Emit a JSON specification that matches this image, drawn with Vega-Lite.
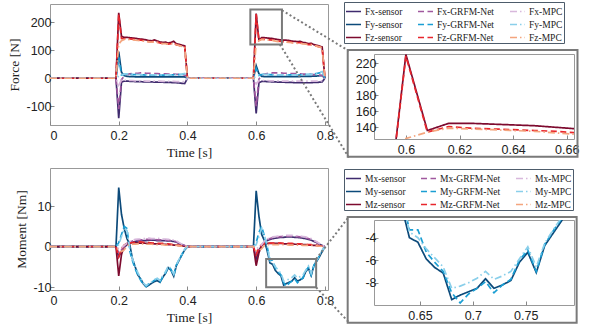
{
"$schema": "https://vega.github.io/schema/vega-lite/v6.json",
"padding": {"left": 7, "top": 1, "right": 5, "bottom": 3},
"background": "white",
"config": {
  "view": {"stroke": "#999999", "strokeWidth": 1},
  "axis": {"grid": false, "domain": false, "tickColor": "#888888", "tickSize": -4, "labelFont": "Liberation Sans", "labelFontSize": 12.5, "labelColor": "#222222", "titleFont": "Liberation Serif", "titleFontSize": 13.5, "titleFontWeight": "normal", "titleColor": "#222222", "labelPadding": 5},
  "axisY": {"titlePadding": 4, "labelPadding": 3},
  "axisX": {"titlePadding": 3, "labelPadding": 8.5},
  "line": {"strokeWidth": 1.7}
},
"datasets": {
"force": [
{"t":0,"Fx-sensor":0,"Fy-sensor":0,"Fz-sensor":0,"Fx-GRFM-Net":0,"Fy-GRFM-Net":0,"Fz-GRFM-Net":0,"Fx-MPC":0,"Fy-MPC":0,"Fz-MPC":0},
{"t":0.192,"Fx-sensor":0,"Fy-sensor":0,"Fz-sensor":0,"Fx-GRFM-Net":0,"Fy-GRFM-Net":0,"Fz-GRFM-Net":0,"Fx-MPC":0,"Fy-MPC":0,"Fz-MPC":0},
{"t":0.2,"Fx-sensor":-143,"Fy-sensor":95,"Fz-sensor":234,"Fx-GRFM-Net":-110,"Fy-GRFM-Net":75,"Fz-GRFM-Net":228,"Fx-MPC":-25,"Fy-MPC":8,"Fz-MPC":122},
{"t":0.208,"Fx-sensor":-14,"Fy-sensor":22,"Fz-sensor":150,"Fx-GRFM-Net":-5,"Fy-GRFM-Net":12,"Fz-GRFM-Net":142,"Fx-MPC":-6,"Fy-MPC":12,"Fz-MPC":134},
{"t":0.216,"Fx-sensor":-10,"Fy-sensor":9,"Fz-sensor":146,"Fx-GRFM-Net":8,"Fy-GRFM-Net":14,"Fz-GRFM-Net":141,"Fx-MPC":-7,"Fy-MPC":15,"Fz-MPC":139},
{"t":0.224,"Fx-sensor":-10,"Fy-sensor":7,"Fz-sensor":146,"Fx-GRFM-Net":14,"Fy-GRFM-Net":15,"Fz-GRFM-Net":142,"Fx-MPC":-8,"Fy-MPC":16,"Fz-MPC":139},
{"t":0.232,"Fx-sensor":-11,"Fy-sensor":6,"Fz-sensor":145,"Fx-GRFM-Net":16,"Fy-GRFM-Net":14,"Fz-GRFM-Net":141,"Fx-MPC":-8,"Fy-MPC":15,"Fz-MPC":138},
{"t":0.24,"Fx-sensor":-11,"Fy-sensor":6,"Fz-sensor":144,"Fx-GRFM-Net":17,"Fy-GRFM-Net":13,"Fz-GRFM-Net":140,"Fx-MPC":-8,"Fy-MPC":14,"Fz-MPC":137},
{"t":0.248,"Fx-sensor":-12,"Fy-sensor":5,"Fz-sensor":143,"Fx-GRFM-Net":18,"Fy-GRFM-Net":13,"Fz-GRFM-Net":139,"Fx-MPC":-9,"Fy-MPC":14,"Fz-MPC":136},
{"t":0.256,"Fx-sensor":-12,"Fy-sensor":5,"Fz-sensor":141,"Fx-GRFM-Net":18,"Fy-GRFM-Net":12,"Fz-GRFM-Net":137,"Fx-MPC":-9,"Fy-MPC":13,"Fz-MPC":135},
{"t":0.264,"Fx-sensor":-12,"Fy-sensor":5,"Fz-sensor":140,"Fx-GRFM-Net":19,"Fy-GRFM-Net":12,"Fz-GRFM-Net":136,"Fx-MPC":-9,"Fy-MPC":13,"Fz-MPC":134},
{"t":0.272,"Fx-sensor":-13,"Fy-sensor":5,"Fz-sensor":139,"Fx-GRFM-Net":19,"Fy-GRFM-Net":12,"Fz-GRFM-Net":135,"Fx-MPC":-9,"Fy-MPC":12,"Fz-MPC":133},
{"t":0.28,"Fx-sensor":-13,"Fy-sensor":5,"Fz-sensor":137,"Fx-GRFM-Net":18,"Fy-GRFM-Net":11,"Fz-GRFM-Net":133,"Fx-MPC":-10,"Fy-MPC":12,"Fz-MPC":131},
{"t":0.288,"Fx-sensor":-13,"Fy-sensor":5,"Fz-sensor":135,"Fx-GRFM-Net":18,"Fy-GRFM-Net":11,"Fz-GRFM-Net":131,"Fx-MPC":-10,"Fy-MPC":12,"Fz-MPC":130},
{"t":0.296,"Fx-sensor":-13,"Fy-sensor":5,"Fz-sensor":134,"Fx-GRFM-Net":17,"Fy-GRFM-Net":11,"Fz-GRFM-Net":130,"Fx-MPC":-10,"Fy-MPC":12,"Fz-MPC":129},
{"t":0.304,"Fx-sensor":-14,"Fy-sensor":5,"Fz-sensor":137,"Fx-GRFM-Net":17,"Fy-GRFM-Net":11,"Fz-GRFM-Net":133,"Fx-MPC":-10,"Fy-MPC":12,"Fz-MPC":130},
{"t":0.312,"Fx-sensor":-14,"Fy-sensor":5,"Fz-sensor":133,"Fx-GRFM-Net":17,"Fy-GRFM-Net":11,"Fz-GRFM-Net":129,"Fx-MPC":-10,"Fy-MPC":12,"Fz-MPC":128},
{"t":0.32,"Fx-sensor":-14,"Fy-sensor":5,"Fz-sensor":130,"Fx-GRFM-Net":16,"Fy-GRFM-Net":11,"Fz-GRFM-Net":126,"Fx-MPC":-10,"Fy-MPC":12,"Fz-MPC":126},
{"t":0.328,"Fx-sensor":-14,"Fy-sensor":5,"Fz-sensor":128,"Fx-GRFM-Net":16,"Fy-GRFM-Net":11,"Fz-GRFM-Net":124,"Fx-MPC":-11,"Fy-MPC":12,"Fz-MPC":124},
{"t":0.336,"Fx-sensor":-15,"Fy-sensor":5,"Fz-sensor":129,"Fx-GRFM-Net":16,"Fy-GRFM-Net":11,"Fz-GRFM-Net":125,"Fx-MPC":-11,"Fy-MPC":12,"Fz-MPC":124},
{"t":0.344,"Fx-sensor":-15,"Fy-sensor":5,"Fz-sensor":126,"Fx-GRFM-Net":15,"Fy-GRFM-Net":11,"Fz-GRFM-Net":122,"Fx-MPC":-11,"Fy-MPC":12,"Fz-MPC":122},
{"t":0.352,"Fx-sensor":-15,"Fy-sensor":5,"Fz-sensor":128,"Fx-GRFM-Net":15,"Fy-GRFM-Net":12,"Fz-GRFM-Net":124,"Fx-MPC":-11,"Fy-MPC":12,"Fz-MPC":123},
{"t":0.36,"Fx-sensor":-16,"Fy-sensor":5,"Fz-sensor":132,"Fx-GRFM-Net":15,"Fy-GRFM-Net":12,"Fz-GRFM-Net":127,"Fx-MPC":-11,"Fy-MPC":13,"Fz-MPC":125},
{"t":0.368,"Fx-sensor":-16,"Fy-sensor":5,"Fz-sensor":123,"Fx-GRFM-Net":14,"Fy-GRFM-Net":12,"Fz-GRFM-Net":119,"Fx-MPC":-12,"Fy-MPC":13,"Fz-MPC":120},
{"t":0.376,"Fx-sensor":-17,"Fy-sensor":5,"Fz-sensor":121,"Fx-GRFM-Net":14,"Fy-GRFM-Net":13,"Fz-GRFM-Net":117,"Fx-MPC":-12,"Fy-MPC":14,"Fz-MPC":117},
{"t":0.384,"Fx-sensor":-18,"Fy-sensor":5,"Fz-sensor":118,"Fx-GRFM-Net":13,"Fy-GRFM-Net":14,"Fz-GRFM-Net":114,"Fx-MPC":-12,"Fy-MPC":15,"Fz-MPC":114},
{"t":0.392,"Fx-sensor":-19,"Fy-sensor":5,"Fz-sensor":116,"Fx-GRFM-Net":12,"Fy-GRFM-Net":16,"Fz-GRFM-Net":112,"Fx-MPC":-12,"Fy-MPC":17,"Fz-MPC":112},
{"t":0.4,"Fx-sensor":0,"Fy-sensor":0,"Fz-sensor":0,"Fx-GRFM-Net":0,"Fy-GRFM-Net":0,"Fz-GRFM-Net":0,"Fx-MPC":0,"Fy-MPC":0,"Fz-MPC":0},
{"t":0.408,"Fx-sensor":0,"Fy-sensor":0,"Fz-sensor":0,"Fx-GRFM-Net":0,"Fy-GRFM-Net":0,"Fz-GRFM-Net":0,"Fx-MPC":0,"Fy-MPC":0,"Fz-MPC":0},
{"t":0.592,"Fx-sensor":0,"Fy-sensor":0,"Fz-sensor":0,"Fx-GRFM-Net":0,"Fy-GRFM-Net":0,"Fz-GRFM-Net":0,"Fx-MPC":0,"Fy-MPC":0,"Fz-MPC":0},
{"t":0.6,"Fx-sensor":-126,"Fy-sensor":45,"Fz-sensor":231,"Fx-GRFM-Net":-100,"Fy-GRFM-Net":35,"Fz-GRFM-Net":229,"Fx-MPC":-20,"Fy-MPC":8,"Fz-MPC":126},
{"t":0.608,"Fx-sensor":-16,"Fy-sensor":16,"Fz-sensor":136,"Fx-GRFM-Net":-3,"Fy-GRFM-Net":10,"Fz-GRFM-Net":134,"Fx-MPC":-8,"Fy-MPC":12,"Fz-MPC":134},
{"t":0.616,"Fx-sensor":-11,"Fy-sensor":7,"Fz-sensor":145,"Fx-GRFM-Net":10,"Fy-GRFM-Net":13,"Fz-GRFM-Net":141,"Fx-MPC":-8,"Fy-MPC":14,"Fz-MPC":139},
{"t":0.624,"Fx-sensor":-11,"Fy-sensor":6,"Fz-sensor":145,"Fx-GRFM-Net":15,"Fy-GRFM-Net":14,"Fz-GRFM-Net":139,"Fx-MPC":-8,"Fy-MPC":14,"Fz-MPC":138},
{"t":0.632,"Fx-sensor":-12,"Fy-sensor":6,"Fz-sensor":144,"Fx-GRFM-Net":17,"Fy-GRFM-Net":13,"Fz-GRFM-Net":138,"Fx-MPC":-8,"Fy-MPC":14,"Fz-MPC":137},
{"t":0.64,"Fx-sensor":-12,"Fy-sensor":6,"Fz-sensor":143,"Fx-GRFM-Net":18,"Fy-GRFM-Net":13,"Fz-GRFM-Net":137,"Fx-MPC":-9,"Fy-MPC":13,"Fz-MPC":136},
{"t":0.648,"Fx-sensor":-13,"Fy-sensor":6,"Fz-sensor":142,"Fx-GRFM-Net":19,"Fy-GRFM-Net":12,"Fz-GRFM-Net":136,"Fx-MPC":-9,"Fy-MPC":13,"Fz-MPC":135},
{"t":0.656,"Fx-sensor":-13,"Fy-sensor":6,"Fz-sensor":140,"Fx-GRFM-Net":19,"Fy-GRFM-Net":12,"Fz-GRFM-Net":135,"Fx-MPC":-9,"Fy-MPC":13,"Fz-MPC":133},
{"t":0.664,"Fx-sensor":-14,"Fy-sensor":6,"Fz-sensor":138,"Fx-GRFM-Net":19,"Fy-GRFM-Net":12,"Fz-GRFM-Net":133,"Fx-MPC":-9,"Fy-MPC":12,"Fz-MPC":131},
{"t":0.672,"Fx-sensor":-14,"Fy-sensor":6,"Fz-sensor":137,"Fx-GRFM-Net":19,"Fy-GRFM-Net":12,"Fz-GRFM-Net":132,"Fx-MPC":-10,"Fy-MPC":12,"Fz-MPC":130},
{"t":0.68,"Fx-sensor":-14,"Fy-sensor":6,"Fz-sensor":136,"Fx-GRFM-Net":18,"Fy-GRFM-Net":12,"Fz-GRFM-Net":131,"Fx-MPC":-10,"Fy-MPC":12,"Fz-MPC":129},
{"t":0.688,"Fx-sensor":-15,"Fy-sensor":6,"Fz-sensor":136,"Fx-GRFM-Net":18,"Fy-GRFM-Net":12,"Fz-GRFM-Net":131,"Fx-MPC":-10,"Fy-MPC":12,"Fz-MPC":129},
{"t":0.696,"Fx-sensor":-15,"Fy-sensor":6,"Fz-sensor":135,"Fx-GRFM-Net":17,"Fy-GRFM-Net":12,"Fz-GRFM-Net":130,"Fx-MPC":-10,"Fy-MPC":12,"Fz-MPC":128},
{"t":0.704,"Fx-sensor":-15,"Fy-sensor":6,"Fz-sensor":133,"Fx-GRFM-Net":17,"Fy-GRFM-Net":12,"Fz-GRFM-Net":128,"Fx-MPC":-10,"Fy-MPC":12,"Fz-MPC":127},
{"t":0.712,"Fx-sensor":-16,"Fy-sensor":6,"Fz-sensor":132,"Fx-GRFM-Net":17,"Fy-GRFM-Net":12,"Fz-GRFM-Net":127,"Fx-MPC":-10,"Fy-MPC":12,"Fz-MPC":126},
{"t":0.72,"Fx-sensor":-16,"Fy-sensor":6,"Fz-sensor":131,"Fx-GRFM-Net":16,"Fy-GRFM-Net":12,"Fz-GRFM-Net":127,"Fx-MPC":-10,"Fy-MPC":12,"Fz-MPC":125},
{"t":0.728,"Fx-sensor":-16,"Fy-sensor":6,"Fz-sensor":132,"Fx-GRFM-Net":16,"Fy-GRFM-Net":12,"Fz-GRFM-Net":127,"Fx-MPC":-10,"Fy-MPC":13,"Fz-MPC":125},
{"t":0.736,"Fx-sensor":-16,"Fy-sensor":7,"Fz-sensor":128,"Fx-GRFM-Net":15,"Fy-GRFM-Net":13,"Fz-GRFM-Net":124,"Fx-MPC":-10,"Fy-MPC":13,"Fz-MPC":123},
{"t":0.744,"Fx-sensor":-16,"Fy-sensor":7,"Fz-sensor":127,"Fx-GRFM-Net":15,"Fy-GRFM-Net":13,"Fz-GRFM-Net":123,"Fx-MPC":-10,"Fy-MPC":13,"Fz-MPC":122},
{"t":0.752,"Fx-sensor":-16,"Fy-sensor":7,"Fz-sensor":124,"Fx-GRFM-Net":14,"Fy-GRFM-Net":13,"Fz-GRFM-Net":120,"Fx-MPC":-10,"Fy-MPC":14,"Fz-MPC":120},
{"t":0.76,"Fx-sensor":-16,"Fy-sensor":7,"Fz-sensor":125,"Fx-GRFM-Net":14,"Fy-GRFM-Net":14,"Fz-GRFM-Net":121,"Fx-MPC":-10,"Fy-MPC":14,"Fz-MPC":120},
{"t":0.768,"Fx-sensor":-15,"Fy-sensor":8,"Fz-sensor":120,"Fx-GRFM-Net":13,"Fy-GRFM-Net":15,"Fz-GRFM-Net":117,"Fx-MPC":-10,"Fy-MPC":15,"Fz-MPC":117},
{"t":0.776,"Fx-sensor":-15,"Fy-sensor":8,"Fz-sensor":118,"Fx-GRFM-Net":12,"Fy-GRFM-Net":17,"Fz-GRFM-Net":115,"Fx-MPC":-10,"Fy-MPC":17,"Fz-MPC":115},
{"t":0.784,"Fx-sensor":-14,"Fy-sensor":9,"Fz-sensor":115,"Fx-GRFM-Net":11,"Fy-GRFM-Net":19,"Fz-GRFM-Net":112,"Fx-MPC":-10,"Fy-MPC":20,"Fz-MPC":112},
{"t":0.792,"Fx-sensor":-13,"Fy-sensor":10,"Fz-sensor":112,"Fx-GRFM-Net":10,"Fy-GRFM-Net":22,"Fz-GRFM-Net":109,"Fx-MPC":-9,"Fy-MPC":24,"Fz-MPC":109},
{"t":0.8,"Fx-sensor":0,"Fy-sensor":0,"Fz-sensor":0,"Fx-GRFM-Net":0,"Fy-GRFM-Net":0,"Fz-GRFM-Net":0,"Fx-MPC":0,"Fy-MPC":0,"Fz-MPC":0}
],
"moment": [
{"t":0,"Mx-sensor":0,"My-sensor":0,"Mz-sensor":0,"Mx-GRFM-Net":0,"My-GRFM-Net":0,"Mz-GRFM-Net":0,"Mx-MPC":0,"My-MPC":0,"Mz-MPC":0},
{"t":0.192,"Mx-sensor":0,"My-sensor":0,"Mz-sensor":0,"Mx-GRFM-Net":0,"My-GRFM-Net":0,"Mz-GRFM-Net":0,"Mx-MPC":0,"My-MPC":0,"Mz-MPC":0},
{"t":0.2,"Mx-sensor":-2.5,"My-sensor":14.6,"Mz-sensor":-7.2,"Mx-GRFM-Net":-1.5,"My-GRFM-Net":1.0,"Mz-GRFM-Net":-2.5,"Mx-MPC":-0.5,"My-MPC":0.5,"Mz-MPC":-1.0},
{"t":0.208,"Mx-sensor":-1.2,"My-sensor":8.0,"Mz-sensor":-2.0,"Mx-GRFM-Net":-0.8,"My-GRFM-Net":3.0,"Mz-GRFM-Net":-0.5,"Mx-MPC":-0.3,"My-MPC":2.5,"Mz-MPC":-1.2},
{"t":0.216,"Mx-sensor":-0.2,"My-sensor":4.5,"Mz-sensor":0.3,"Mx-GRFM-Net":0.0,"My-GRFM-Net":5.0,"Mz-GRFM-Net":0.4,"Mx-MPC":0.3,"My-MPC":4.5,"Mz-MPC":-0.8},
{"t":0.224,"Mx-sensor":0.5,"My-sensor":2.0,"Mz-sensor":0.8,"Mx-GRFM-Net":0.6,"My-GRFM-Net":4.5,"Mz-GRFM-Net":0.8,"Mx-MPC":0.8,"My-MPC":4.0,"Mz-MPC":0.2},
{"t":0.232,"Mx-sensor":0.9,"My-sensor":0.5,"Mz-sensor":1.0,"Mx-GRFM-Net":1.1,"My-GRFM-Net":-1.0,"Mz-GRFM-Net":0.9,"Mx-MPC":1.3,"My-MPC":-0.5,"Mz-MPC":0.5},
{"t":0.24,"Mx-sensor":1.1,"My-sensor":-3.0,"Mz-sensor":1.0,"Mx-GRFM-Net":1.4,"My-GRFM-Net":-3.5,"Mz-GRFM-Net":1.0,"Mx-MPC":1.6,"My-MPC":-3.0,"Mz-MPC":0.6},
{"t":0.248,"Mx-sensor":1.3,"My-sensor":-5.0,"Mz-sensor":1.0,"Mx-GRFM-Net":1.5,"My-GRFM-Net":-5.5,"Mz-GRFM-Net":1.1,"Mx-MPC":1.8,"My-MPC":-4.8,"Mz-MPC":0.6},
{"t":0.256,"Mx-sensor":1.4,"My-sensor":-7.0,"Mz-sensor":0.9,"Mx-GRFM-Net":1.6,"My-GRFM-Net":-7.0,"Mz-GRFM-Net":1.2,"Mx-MPC":1.9,"My-MPC":-6.5,"Mz-MPC":0.7},
{"t":0.264,"Mx-sensor":1.5,"My-sensor":-8.0,"Mz-sensor":0.9,"Mx-GRFM-Net":1.7,"My-GRFM-Net":-8.3,"Mz-GRFM-Net":1.2,"Mx-MPC":1.9,"My-MPC":-7.8,"Mz-MPC":0.7},
{"t":0.272,"Mx-sensor":1.5,"My-sensor":-9.2,"Mz-sensor":0.9,"Mx-GRFM-Net":1.7,"My-GRFM-Net":-9.4,"Mz-GRFM-Net":1.1,"Mx-MPC":2.0,"My-MPC":-9.0,"Mz-MPC":0.7},
{"t":0.28,"Mx-sensor":1.5,"My-sensor":-9.9,"Mz-sensor":0.8,"Mx-GRFM-Net":1.8,"My-GRFM-Net":-9.8,"Mz-GRFM-Net":1.0,"Mx-MPC":2.0,"My-MPC":-9.6,"Mz-MPC":0.6},
{"t":0.288,"Mx-sensor":1.6,"My-sensor":-9.5,"Mz-sensor":0.8,"Mx-GRFM-Net":1.8,"My-GRFM-Net":-9.2,"Mz-GRFM-Net":1.0,"Mx-MPC":2.1,"My-MPC":-9.1,"Mz-MPC":0.6},
{"t":0.296,"Mx-sensor":1.6,"My-sensor":-9.0,"Mz-sensor":0.8,"Mx-GRFM-Net":1.8,"My-GRFM-Net":-8.8,"Mz-GRFM-Net":0.9,"Mx-MPC":2.0,"My-MPC":-8.7,"Mz-MPC":0.6},
{"t":0.304,"Mx-sensor":1.6,"My-sensor":-8.6,"Mz-sensor":0.7,"Mx-GRFM-Net":1.8,"My-GRFM-Net":-8.3,"Mz-GRFM-Net":0.9,"Mx-MPC":2.0,"My-MPC":-8.1,"Mz-MPC":0.5},
{"t":0.312,"Mx-sensor":1.5,"My-sensor":-8.4,"Mz-sensor":0.7,"Mx-GRFM-Net":1.7,"My-GRFM-Net":-8.0,"Mz-GRFM-Net":0.8,"Mx-MPC":2.1,"My-MPC":-7.8,"Mz-MPC":0.5},
{"t":0.32,"Mx-sensor":1.5,"My-sensor":-8.8,"Mz-sensor":0.7,"Mx-GRFM-Net":1.7,"My-GRFM-Net":-8.7,"Mz-GRFM-Net":0.8,"Mx-MPC":2.0,"My-MPC":-8.3,"Mz-MPC":0.5},
{"t":0.328,"Mx-sensor":1.5,"My-sensor":-7.6,"Mz-sensor":0.6,"Mx-GRFM-Net":1.7,"My-GRFM-Net":-7.5,"Mz-GRFM-Net":0.8,"Mx-MPC":1.9,"My-MPC":-7.2,"Mz-MPC":0.5},
{"t":0.336,"Mx-sensor":1.5,"My-sensor":-6.6,"Mz-sensor":0.6,"Mx-GRFM-Net":1.6,"My-GRFM-Net":-6.5,"Mz-GRFM-Net":0.7,"Mx-MPC":1.9,"My-MPC":-6.2,"Mz-MPC":0.4},
{"t":0.344,"Mx-sensor":1.4,"My-sensor":-5.2,"Mz-sensor":0.5,"Mx-GRFM-Net":1.6,"My-GRFM-Net":-5.0,"Mz-GRFM-Net":0.7,"Mx-MPC":1.8,"My-MPC":-4.8,"Mz-MPC":0.4},
{"t":0.352,"Mx-sensor":1.4,"My-sensor":-5.8,"Mz-sensor":0.5,"Mx-GRFM-Net":1.5,"My-GRFM-Net":-5.6,"Mz-GRFM-Net":0.6,"Mx-MPC":1.8,"My-MPC":-5.4,"Mz-MPC":0.4},
{"t":0.36,"Mx-sensor":1.3,"My-sensor":-7.3,"Mz-sensor":0.4,"Mx-GRFM-Net":1.4,"My-GRFM-Net":-7.2,"Mz-GRFM-Net":0.5,"Mx-MPC":1.6,"My-MPC":-6.8,"Mz-MPC":0.3},
{"t":0.368,"Mx-sensor":1.1,"My-sensor":-4.6,"Mz-sensor":0.4,"Mx-GRFM-Net":1.2,"My-GRFM-Net":-4.5,"Mz-GRFM-Net":0.4,"Mx-MPC":1.4,"My-MPC":-4.4,"Mz-MPC":0.3},
{"t":0.376,"Mx-sensor":0.8,"My-sensor":-3.3,"Mz-sensor":0.3,"Mx-GRFM-Net":0.9,"My-GRFM-Net":-3.2,"Mz-GRFM-Net":0.3,"Mx-MPC":1.0,"My-MPC":-3.1,"Mz-MPC":0.2},
{"t":0.384,"Mx-sensor":0.5,"My-sensor":-2.0,"Mz-sensor":0.2,"Mx-GRFM-Net":0.6,"My-GRFM-Net":-1.9,"Mz-GRFM-Net":0.2,"Mx-MPC":0.6,"My-MPC":-1.8,"Mz-MPC":0.1},
{"t":0.392,"Mx-sensor":0.2,"My-sensor":-0.8,"Mz-sensor":0.1,"Mx-GRFM-Net":0.3,"My-GRFM-Net":-0.6,"Mz-GRFM-Net":0.1,"Mx-MPC":0.3,"My-MPC":-0.6,"Mz-MPC":0.1},
{"t":0.4,"Mx-sensor":0,"My-sensor":0,"Mz-sensor":0,"Mx-GRFM-Net":0,"My-GRFM-Net":0,"Mz-GRFM-Net":0,"Mx-MPC":0,"My-MPC":0,"Mz-MPC":0},
{"t":0.408,"Mx-sensor":0,"My-sensor":0,"Mz-sensor":0,"Mx-GRFM-Net":0,"My-GRFM-Net":0,"Mz-GRFM-Net":0,"Mx-MPC":0,"My-MPC":0,"Mz-MPC":0},
{"t":0.592,"Mx-sensor":0,"My-sensor":0,"Mz-sensor":0,"Mx-GRFM-Net":0,"My-GRFM-Net":0,"Mz-GRFM-Net":0,"Mx-MPC":0,"My-MPC":0,"Mz-MPC":0},
{"t":0.6,"Mx-sensor":-3.0,"My-sensor":13.8,"Mz-sensor":-4.7,"Mx-GRFM-Net":-1.5,"My-GRFM-Net":1.0,"Mz-GRFM-Net":-2.0,"Mx-MPC":-0.5,"My-MPC":0.5,"Mz-MPC":-1.0},
{"t":0.608,"Mx-sensor":-1.0,"My-sensor":7.5,"Mz-sensor":-1.5,"Mx-GRFM-Net":-0.5,"My-GRFM-Net":3.5,"Mz-GRFM-Net":-0.3,"Mx-MPC":-0.2,"My-MPC":2.5,"Mz-MPC":-1.0},
{"t":0.616,"Mx-sensor":0.3,"My-sensor":3.0,"Mz-sensor":0.3,"Mx-GRFM-Net":0.4,"My-GRFM-Net":5.0,"Mz-GRFM-Net":0.5,"Mx-MPC":0.5,"My-MPC":4.5,"Mz-MPC":-0.5},
{"t":0.624,"Mx-sensor":1.0,"My-sensor":1.5,"Mz-sensor":0.7,"Mx-GRFM-Net":1.2,"My-GRFM-Net":2.5,"Mz-GRFM-Net":0.8,"Mx-MPC":1.4,"My-MPC":2.8,"Mz-MPC":0.3},
{"t":0.632,"Mx-sensor":1.5,"My-sensor":-1.0,"Mz-sensor":0.8,"Mx-GRFM-Net":1.7,"My-GRFM-Net":0.0,"Mz-GRFM-Net":0.9,"Mx-MPC":1.9,"My-MPC":0.3,"Mz-MPC":0.5},
{"t":0.64,"Mx-sensor":1.8,"My-sensor":-4.0,"Mz-sensor":0.8,"Mx-GRFM-Net":2.0,"My-GRFM-Net":-3.3,"Mz-GRFM-Net":0.9,"Mx-MPC":2.2,"My-MPC":-3.5,"Mz-MPC":0.5},
{"t":0.648,"Mx-sensor":2.0,"My-sensor":-4.4,"Mz-sensor":0.8,"Mx-GRFM-Net":2.2,"My-GRFM-Net":-3.3,"Mz-GRFM-Net":0.9,"Mx-MPC":2.4,"My-MPC":-4.0,"Mz-MPC":0.5},
{"t":0.656,"Mx-sensor":2.1,"My-sensor":-5.9,"Mz-sensor":0.8,"Mx-GRFM-Net":2.3,"My-GRFM-Net":-5.3,"Mz-GRFM-Net":0.9,"Mx-MPC":2.5,"My-MPC":-5.0,"Mz-MPC":0.5},
{"t":0.664,"Mx-sensor":2.2,"My-sensor":-6.65,"Mz-sensor":0.8,"Mx-GRFM-Net":2.4,"My-GRFM-Net":-6.2,"Mz-GRFM-Net":0.9,"Mx-MPC":2.6,"My-MPC":-5.8,"Mz-MPC":0.5},
{"t":0.672,"Mx-sensor":2.3,"My-sensor":-7.15,"Mz-sensor":0.8,"Mx-GRFM-Net":2.5,"My-GRFM-Net":-7.0,"Mz-GRFM-Net":0.9,"Mx-MPC":2.7,"My-MPC":-6.6,"Mz-MPC":0.5},
{"t":0.68,"Mx-sensor":2.3,"My-sensor":-9.5,"Mz-sensor":0.7,"Mx-GRFM-Net":2.5,"My-GRFM-Net":-8.9,"Mz-GRFM-Net":0.8,"Mx-MPC":2.7,"My-MPC":-8.5,"Mz-MPC":0.5},
{"t":0.688,"Mx-sensor":2.4,"My-sensor":-9.1,"Mz-sensor":0.7,"Mx-GRFM-Net":2.6,"My-GRFM-Net":-9.8,"Mz-GRFM-Net":0.8,"Mx-MPC":2.8,"My-MPC":-8.3,"Mz-MPC":0.5},
{"t":0.696,"Mx-sensor":2.4,"My-sensor":-8.8,"Mz-sensor":0.7,"Mx-GRFM-Net":2.6,"My-GRFM-Net":-9.0,"Mz-GRFM-Net":0.8,"Mx-MPC":2.8,"My-MPC":-8.0,"Mz-MPC":0.4},
{"t":0.704,"Mx-sensor":2.4,"My-sensor":-8.5,"Mz-sensor":0.7,"Mx-GRFM-Net":2.6,"My-GRFM-Net":-8.5,"Mz-GRFM-Net":0.8,"Mx-MPC":2.8,"My-MPC":-7.6,"Mz-MPC":0.4},
{"t":0.712,"Mx-sensor":2.3,"My-sensor":-7.65,"Mz-sensor":0.6,"Mx-GRFM-Net":2.5,"My-GRFM-Net":-7.9,"Mz-GRFM-Net":0.7,"Mx-MPC":2.7,"My-MPC":-7.0,"Mz-MPC":0.4},
{"t":0.72,"Mx-sensor":2.3,"My-sensor":-8.5,"Mz-sensor":0.6,"Mx-GRFM-Net":2.5,"My-GRFM-Net":-8.9,"Mz-GRFM-Net":0.7,"Mx-MPC":2.7,"My-MPC":-7.7,"Mz-MPC":0.4},
{"t":0.728,"Mx-sensor":2.2,"My-sensor":-8.2,"Mz-sensor":0.6,"Mx-GRFM-Net":2.4,"My-GRFM-Net":-8.2,"Mz-GRFM-Net":0.7,"Mx-MPC":2.6,"My-MPC":-7.4,"Mz-MPC":0.4},
{"t":0.736,"Mx-sensor":2.1,"My-sensor":-7.8,"Mz-sensor":0.5,"Mx-GRFM-Net":2.3,"My-GRFM-Net":-7.7,"Mz-GRFM-Net":0.6,"Mx-MPC":2.5,"My-MPC":-7.0,"Mz-MPC":0.3},
{"t":0.744,"Mx-sensor":2.0,"My-sensor":-6.2,"Mz-sensor":0.5,"Mx-GRFM-Net":2.2,"My-GRFM-Net":-6.0,"Mz-GRFM-Net":0.6,"Mx-MPC":2.4,"My-MPC":-5.9,"Mz-MPC":0.3},
{"t":0.752,"Mx-sensor":1.8,"My-sensor":-5.3,"Mz-sensor":0.4,"Mx-GRFM-Net":2.0,"My-GRFM-Net":-5.1,"Mz-GRFM-Net":0.5,"Mx-MPC":2.2,"My-MPC":-4.8,"Mz-MPC":0.3},
{"t":0.76,"Mx-sensor":1.6,"My-sensor":-7.1,"Mz-sensor":0.4,"Mx-GRFM-Net":1.8,"My-GRFM-Net":-7.0,"Mz-GRFM-Net":0.5,"Mx-MPC":2.0,"My-MPC":-6.6,"Mz-MPC":0.3},
{"t":0.768,"Mx-sensor":1.3,"My-sensor":-4.7,"Mz-sensor":0.3,"Mx-GRFM-Net":1.5,"My-GRFM-Net":-4.6,"Mz-GRFM-Net":0.4,"Mx-MPC":1.6,"My-MPC":-4.5,"Mz-MPC":0.2},
{"t":0.776,"Mx-sensor":1.0,"My-sensor":-3.6,"Mz-sensor":0.3,"Mx-GRFM-Net":1.1,"My-GRFM-Net":-3.4,"Mz-GRFM-Net":0.3,"Mx-MPC":1.2,"My-MPC":-3.3,"Mz-MPC":0.2},
{"t":0.784,"Mx-sensor":0.6,"My-sensor":-2.5,"Mz-sensor":0.2,"Mx-GRFM-Net":0.7,"My-GRFM-Net":-2.3,"Mz-GRFM-Net":0.2,"Mx-MPC":0.8,"My-MPC":-2.2,"Mz-MPC":0.1},
{"t":0.792,"Mx-sensor":0.3,"My-sensor":-1.2,"Mz-sensor":0.1,"Mx-GRFM-Net":0.3,"My-GRFM-Net":-1.0,"Mz-GRFM-Net":0.1,"Mx-MPC":0.4,"My-MPC":-1.0,"Mz-MPC":0.1},
{"t":0.8,"Mx-sensor":0,"My-sensor":0,"Mz-sensor":0,"Mx-GRFM-Net":0,"My-GRFM-Net":0,"Mz-GRFM-Net":0,"Mx-MPC":0,"My-MPC":0,"Mz-MPC":0}
]
},
"spacing": -8,
"resolve": {"scale": {"x": "independent", "y": "independent", "color": "independent", "strokeDash": "independent"}, "legend": {"color": "independent", "strokeDash": "independent"}, "axis": {"x": "independent", "y": "independent"}},
"hconcat": [
 {
  "bounds": "flush",
  "spacing": 43,
  "resolve": {"scale": {"x": "independent", "y": "independent", "color": "independent", "strokeDash": "independent"}, "legend": {"color": "independent", "strokeDash": "independent"}, "axis": {"x": "independent", "y": "independent"}},
  "vconcat": [
   {
    "width": 278, "height": 121,
    "layer": [
     {
      "data": {"name": "force"},
      "transform": [{"fold": ["Fx-sensor","Fy-sensor","Fz-sensor","Fx-GRFM-Net","Fy-GRFM-Net","Fz-GRFM-Net","Fx-MPC","Fy-MPC","Fz-MPC"], "as": ["series", "v"]}],
      "mark": {"type": "line", "clip": true},
      "encoding": {
       "x": {"field": "t", "type": "quantitative", "scale": {"domain": [0, 0.809], "nice": false, "zero": false}, "axis": {"values": [0, 0.2, 0.4, 0.6, 0.8], "labelExpr": "'' + datum.value", "title": "Time [s]"}},
       "y": {"field": "v", "type": "quantitative", "scale": {"domain": [-167, 265.4], "nice": false, "zero": false}, "axis": {"values": [-100, 0, 100, 200], "labelExpr": "'' + datum.value", "title": "Force [N]"}},
       "color": {"field": "series", "type": "nominal", "scale": {"domain": ["Fx-sensor","Fy-sensor","Fz-sensor","Fx-GRFM-Net","Fy-GRFM-Net","Fz-GRFM-Net","Fx-MPC","Fy-MPC","Fz-MPC"], "range": ["#3f2b6e","#0c4a7a","#7d0a2e","#a0589e","#1a9ed3","#e8262c","#d8b8dc","#8acfea","#f4a57e"]}, "legend": null},
       "strokeDash": {"field": "series", "type": "nominal", "scale": {"domain": ["Fx-sensor","Fy-sensor","Fz-sensor","Fx-GRFM-Net","Fy-GRFM-Net","Fz-GRFM-Net","Fx-MPC","Fy-MPC","Fz-MPC"], "range": [[1,0],[1,0],[1,0],[6,3.5],[6,3.5],[6,3.5],[7,3,1.5,3],[7,3,1.5,3],[7,3,1.5,3]]}, "legend": null}
      }
     },
     {
      "data": {"values": [{"x": 0.583, "x2": 0.675, "y": 121, "y2": 246}]},
      "mark": {"type": "rect", "fillOpacity": 0, "stroke": "#7a7a7a", "strokeWidth": 2},
      "encoding": {
       "x": {"field": "x", "type": "quantitative", "scale": {"domain": [0, 0.809], "nice": false, "zero": false}, "axis": {"values": [0, 0.2, 0.4, 0.6, 0.8], "labelExpr": "'' + datum.value", "title": "Time [s]"}},
       "x2": {"field": "x2"},
       "y": {"field": "y", "type": "quantitative", "scale": {"domain": [-167, 265.4], "nice": false, "zero": false}, "axis": {"values": [-100, 0, 100, 200], "labelExpr": "'' + datum.value", "title": "Force [N]"}},
       "y2": {"field": "y2"}
      }
     },
     {
      "data": {"values": [{"x": 0.675, "y": 243, "x2": 0.87, "y2": 97.5}, {"x": 0.669, "y": 121, "x2": 0.87, "y2": -283.6}]},
      "mark": {"type": "rule", "color": "#7a7a7a", "strokeWidth": 2, "strokeDash": [2, 2.5]},
      "encoding": {
       "x": {"field": "x", "type": "quantitative", "scale": {"domain": [0, 0.809], "nice": false, "zero": false}, "axis": {"values": [0, 0.2, 0.4, 0.6, 0.8], "labelExpr": "'' + datum.value", "title": "Time [s]"}},
       "x2": {"field": "x2"},
       "y": {"field": "y", "type": "quantitative", "scale": {"domain": [-167, 265.4], "nice": false, "zero": false}, "axis": {"values": [-100, 0, 100, 200], "labelExpr": "'' + datum.value", "title": "Force [N]"}},
       "y2": {"field": "y2"}
      }
     }
    ]
   },
   {
    "width": 278, "height": 122,
    "layer": [
     {
      "data": {"name": "moment"},
      "transform": [{"fold": ["Mx-sensor","My-sensor","Mz-sensor","Mx-GRFM-Net","My-GRFM-Net","Mz-GRFM-Net","Mx-MPC","My-MPC","Mz-MPC"], "as": ["series", "v"]}],
      "mark": {"type": "line", "clip": true},
      "encoding": {
       "x": {"field": "t", "type": "quantitative", "scale": {"domain": [0, 0.809], "nice": false, "zero": false}, "axis": {"values": [0, 0.2, 0.4, 0.6, 0.8], "labelExpr": "'' + datum.value", "title": "Time [s]"}},
       "y": {"field": "v", "type": "quantitative", "scale": {"domain": [-10.7, 19.43], "nice": false, "zero": false}, "axis": {"values": [-10, 0, 10], "labelExpr": "'' + datum.value", "title": "Moment [Nm]"}},
       "color": {"field": "series", "type": "nominal", "scale": {"domain": ["Mx-sensor","My-sensor","Mz-sensor","Mx-GRFM-Net","My-GRFM-Net","Mz-GRFM-Net","Mx-MPC","My-MPC","Mz-MPC"], "range": ["#3f2b6e","#0c4a7a","#7d0a2e","#a0589e","#1a9ed3","#e8262c","#d8b8dc","#8acfea","#f4a57e"]}, "legend": null},
       "strokeDash": {"field": "series", "type": "nominal", "scale": {"domain": ["Mx-sensor","My-sensor","Mz-sensor","Mx-GRFM-Net","My-GRFM-Net","Mz-GRFM-Net","Mx-MPC","My-MPC","Mz-MPC"], "range": [[1,0],[1,0],[1,0],[6,3.5],[6,3.5],[6,3.5],[7,3,1.5,3],[7,3,1.5,3],[7,3,1.5,3]]}, "legend": null}
      }
     },
     {
      "data": {"values": [{"x": 0.629, "x2": 0.7745, "y": -10.05, "y2": -3.04}]},
      "mark": {"type": "rect", "fillOpacity": 0, "stroke": "#7a7a7a", "strokeWidth": 2},
      "encoding": {
       "x": {"field": "x", "type": "quantitative", "scale": {"domain": [0, 0.809], "nice": false, "zero": false}, "axis": {"values": [0, 0.2, 0.4, 0.6, 0.8], "labelExpr": "'' + datum.value", "title": "Time [s]"}},
       "x2": {"field": "x2"},
       "y": {"field": "y", "type": "quantitative", "scale": {"domain": [-10.7, 19.43], "nice": false, "zero": false}, "axis": {"values": [-10, 0, 10], "labelExpr": "'' + datum.value", "title": "Moment [Nm]"}},
       "y2": {"field": "y2"}
      }
     },
     {
      "data": {"values": [{"x": 0.7745, "y": -3.04, "x2": 0.87, "y2": 7.4}, {"x": 0.7745, "y": -10.05, "x2": 0.87, "y2": -18.7}]},
      "mark": {"type": "rule", "color": "#7a7a7a", "strokeWidth": 2, "strokeDash": [2, 2.5]},
      "encoding": {
       "x": {"field": "x", "type": "quantitative", "scale": {"domain": [0, 0.809], "nice": false, "zero": false}, "axis": {"values": [0, 0.2, 0.4, 0.6, 0.8], "labelExpr": "'' + datum.value", "title": "Time [s]"}},
       "x2": {"field": "x2"},
       "y": {"field": "y", "type": "quantitative", "scale": {"domain": [-10.7, 19.43], "nice": false, "zero": false}, "axis": {"values": [-10, 0, 10], "labelExpr": "'' + datum.value", "title": "Moment [Nm]"}},
       "y2": {"field": "y2"}
      }
     }
    ]
   }
  ]
 },
 {
  "bounds": "flush",
  "spacing": 8,
  "resolve": {"scale": {"x": "independent", "y": "independent", "color": "independent", "strokeDash": "independent"}, "legend": {"color": "independent", "strokeDash": "independent"}, "axis": {"x": "independent", "y": "independent"}},
  "vconcat": [
   {"width": 200, "height": 42, "data": {"values": [{"a": 1}]}, "mark": {"type": "point", "opacity": 0}, "view": {"stroke": null}},
   {
    "width": 200, "height": 85,
    "layer": [
     {
      "data": {"name": "force"},
      "transform": [{"fold": ["Fx-sensor","Fy-sensor","Fz-sensor","Fx-GRFM-Net","Fy-GRFM-Net","Fz-GRFM-Net","Fx-MPC","Fy-MPC","Fz-MPC"], "as": ["series", "v"]}],
      "mark": {"type": "line", "clip": true},
      "encoding": {
       "x": {"field": "t", "type": "quantitative", "scale": {"domain": [0.5881, 0.6627], "nice": false, "zero": false}, "axis": {"values": [0.6, 0.62, 0.64, 0.66], "labelExpr": "'' + datum.value", "title": null}},
       "y": {"field": "v", "type": "quantitative", "scale": {"domain": [125.4, 231.6], "nice": false, "zero": false}, "axis": {"values": [140, 160, 180, 200, 220], "labelExpr": "'' + datum.value", "title": null, "labelPadding": 2}},
       "color": {"field": "series", "type": "nominal", "scale": {"domain": ["Fx-sensor","Fy-sensor","Fz-sensor","Fx-GRFM-Net","Fy-GRFM-Net","Fz-GRFM-Net","Fx-MPC","Fy-MPC","Fz-MPC"], "range": ["#3f2b6e","#0c4a7a","#7d0a2e","#a0589e","#1a9ed3","#e8262c","#d8b8dc","#8acfea","#f4a57e"]},
        "legend": {"orient": "none", "legendX": -30, "legendY": -52, "title": null, "columns": 3, "symbolType": "stroke", "symbolSize": 225, "symbolStrokeWidth": 2, "labelFont": "Liberation Serif", "labelFontSize": 9.5, "labelColor": "#222222", "labelOffset": 3, "strokeColor": "#4d5c6b", "fillColor": "#ffffff", "padding": 1, "rowPadding": -1, "columnPadding": 11}},
       "strokeDash": {"field": "series", "type": "nominal", "scale": {"domain": ["Fx-sensor","Fy-sensor","Fz-sensor","Fx-GRFM-Net","Fy-GRFM-Net","Fz-GRFM-Net","Fx-MPC","Fy-MPC","Fz-MPC"], "range": [[1,0],[1,0],[1,0],[6,3.5],[6,3.5],[6,3.5],[7,3,1.5,3],[7,3,1.5,3],[7,3,1.5,3]]},
        "legend": {"orient": "none", "legendX": -30, "legendY": -52, "title": null, "columns": 3, "symbolType": "stroke", "symbolSize": 225, "symbolStrokeWidth": 2, "labelFont": "Liberation Serif", "labelFontSize": 9.5, "labelColor": "#222222", "labelOffset": 3, "strokeColor": "#4d5c6b", "fillColor": "#ffffff", "padding": 1, "rowPadding": -1, "columnPadding": 11}}
      }
     },
     {
      "data": {"values": [{"x": 0.5783, "x2": 0.664, "y": 103.3, "y2": 236.6}]},
      "mark": {"type": "rect", "fillOpacity": 0, "stroke": "#7a7a7a", "strokeWidth": 2},
      "encoding": {
       "x": {"field": "x", "type": "quantitative", "scale": {"domain": [0.5881, 0.6627], "nice": false, "zero": false}, "axis": {"values": [0.6, 0.62, 0.64, 0.66], "labelExpr": "'' + datum.value", "title": null}},
       "x2": {"field": "x2"},
       "y": {"field": "y", "type": "quantitative", "scale": {"domain": [125.4, 231.6], "nice": false, "zero": false}, "axis": {"values": [140, 160, 180, 200, 220], "labelExpr": "'' + datum.value", "title": null, "labelPadding": 2}},
       "y2": {"field": "y2"}
      }
     }
    ]
   },
   {"width": 200, "height": 65, "data": {"values": [{"a": 1}]}, "mark": {"type": "point", "opacity": 0}, "view": {"stroke": null}},
   {
    "width": 200, "height": 85,
    "layer": [
     {
      "data": {"name": "moment"},
      "transform": [{"fold": ["Mx-sensor","My-sensor","Mz-sensor","Mx-GRFM-Net","My-GRFM-Net","Mz-GRFM-Net","Mx-MPC","My-MPC","Mz-MPC"], "as": ["series", "v"]}],
      "mark": {"type": "line", "clip": true},
      "encoding": {
       "x": {"field": "t", "type": "quantitative", "scale": {"domain": [0.6065, 0.7957], "nice": false, "zero": false}, "axis": {"values": [0.65, 0.7, 0.75], "labelExpr": "'' + datum.value", "title": null}},
       "y": {"field": "v", "type": "quantitative", "scale": {"domain": [-9.98, -2.43], "nice": false, "zero": false}, "axis": {"values": [-8, -6, -4], "labelExpr": "'' + datum.value", "title": null, "labelPadding": 2}},
       "color": {"field": "series", "type": "nominal", "scale": {"domain": ["Mx-sensor","My-sensor","Mz-sensor","Mx-GRFM-Net","My-GRFM-Net","Mz-GRFM-Net","Mx-MPC","My-MPC","Mz-MPC"], "range": ["#3f2b6e","#0c4a7a","#7d0a2e","#a0589e","#1a9ed3","#e8262c","#d8b8dc","#8acfea","#f4a57e"]},
        "legend": {"orient": "none", "legendX": -30, "legendY": -51, "title": null, "columns": 3, "symbolType": "stroke", "symbolSize": 225, "symbolStrokeWidth": 2, "labelFont": "Liberation Serif", "labelFontSize": 9.5, "labelColor": "#222222", "labelOffset": 3, "strokeColor": "#4d5c6b", "fillColor": "#ffffff", "padding": 1, "rowPadding": -1, "columnPadding": 11}},
       "strokeDash": {"field": "series", "type": "nominal", "scale": {"domain": ["Mx-sensor","My-sensor","Mz-sensor","Mx-GRFM-Net","My-GRFM-Net","Mz-GRFM-Net","Mx-MPC","My-MPC","Mz-MPC"], "range": [[1,0],[1,0],[1,0],[6,3.5],[6,3.5],[6,3.5],[7,3,1.5,3],[7,3,1.5,3],[7,3,1.5,3]]},
        "legend": {"orient": "none", "legendX": -30, "legendY": -51, "title": null, "columns": 3, "symbolType": "stroke", "symbolSize": 225, "symbolStrokeWidth": 2, "labelFont": "Liberation Serif", "labelFontSize": 9.5, "labelColor": "#222222", "labelOffset": 3, "strokeColor": "#4d5c6b", "fillColor": "#ffffff", "padding": 1, "rowPadding": -1, "columnPadding": 11}}
      }
     },
     {
      "data": {"values": [{"x": 0.5816, "x2": 0.7982, "y": -11.55, "y2": -2.16}]},
      "mark": {"type": "rect", "fillOpacity": 0, "stroke": "#7a7a7a", "strokeWidth": 2},
      "encoding": {
       "x": {"field": "x", "type": "quantitative", "scale": {"domain": [0.6065, 0.7957], "nice": false, "zero": false}, "axis": {"values": [0.65, 0.7, 0.75], "labelExpr": "'' + datum.value", "title": null}},
       "x2": {"field": "x2"},
       "y": {"field": "y", "type": "quantitative", "scale": {"domain": [-9.98, -2.43], "nice": false, "zero": false}, "axis": {"values": [-8, -6, -4], "labelExpr": "'' + datum.value", "title": null, "labelPadding": 2}},
       "y2": {"field": "y2"}
      }
     }
    ]
   }
  ]
 }
]
}
